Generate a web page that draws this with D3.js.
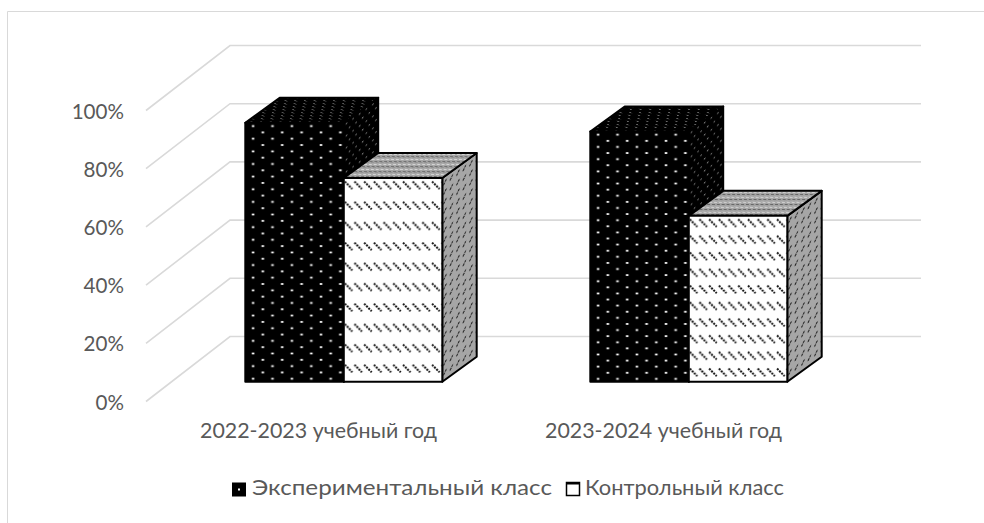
<!DOCTYPE html>
<html>
<head>
<meta charset="utf-8">
<script src="https://cdn.jsdelivr.net/npm/d3@7"></script>
<style>
body { margin: 0; background: #fff; }
text { font-family: Lato, "Open Sans", sans-serif; fill: #595959; font-size: 21.4px; }
</style>
</head>
<body>
<script>
// chart values
var categories = ["2022-2023 учебный год", "2023-2024 учебный год"];
var seriesNames = ["Экспериментальный класс", "Контрольный класс"];
var experimental = [89, 86];
var control = [70, 57];
var yTicks = [0, 20, 40, 60, 80, 100];

var width = 984,
    height = 523;

var svg = d3.select("body").append("svg")
    .attr("width", width)
    .attr("height", height)
    .style("display", "block");

var defs = svg.append("defs");

// every pattern is tied to its own bar, the fills stretch with the bar height
function addPattern(id, w, h, bg, transform) {
    var p = defs.append("pattern")
        .attr("id", id)
        .attr("patternUnits", "userSpaceOnUse")
        .attr("width", w)
        .attr("height", h)
        .attr("patternTransform", transform);
    p.append("rect").attr("width", w).attr("height", h).attr("fill", bg);
    return p;
}

function dot(p, x, y, w, h, color) {
    p.append("rect").attr("x", x).attr("y", y).attr("width", w).attr("height", h).attr("fill", color);
}

function dashes(p, d, color, sw, dash) {
    p.append("path").attr("d", d).attr("fill", "none").attr("stroke", color)
        .attr("stroke-width", sw).attr("stroke-dasharray", dash);
}

// chart frame (only the top and left edges show in the picture)
svg.append("path")
    .attr("d", "M7.5,523 V11.5 H984")
    .attr("fill", "none")
    .attr("stroke", "#d9d9d9")
    .attr("stroke-width", 1);

// scales
var y = d3.scaleLinear().domain([0, 100]).range([401.5, 110.5]);

var x0 = d3.scaleBand()
    .domain(categories)
    .range([146, 836]);

var x1 = d3.scaleBand()
    .domain(seriesNames)
    .range([0, 197]);

var depthX = 84,
    depthY = -65;

// gridlines along wall and floor
yTicks.forEach(function (t) {
    svg.append("path")
        .attr("d", d3.line()([[146, y(t)], [146 + depthX, y(t) + depthY], [921, y(t) + depthY]]))
        .attr("fill", "none")
        .attr("stroke", "#d9d9d9")
        .attr("stroke-width", 1.6);
});

// y tick labels
svg.append("g").selectAll("text")
    .data(yTicks)
    .enter()
    .append("text")
    .attr("x", 124)
    .attr("y", function (d) { return y(d) + 8; })
    .attr("text-anchor", "end")
    .style("font-size", "20.6px")
    .text(function (d) { return d + "%"; });

// bars
var barOffX = 25.3,
    barOffY = -19.8,
    barDX = 34.4,
    barDY = -25;

function drawBar(id, cat, name, val, isBlack) {
    var left = x0(cat) + (x0.bandwidth() - x1.range()[1]) / 2 + x1(name) + barOffX,
        right = left + x1.bandwidth(),
        top = y(val) + barOffY,
        bottom = y(0) + barOffY,
        h = bottom - top,
        slope = barDY / barDX,
        sideT = "matrix(1," + slope + ",0,1," + right + "," + top + ")",
        topT = "matrix(1,0," + (-barDX / barDY) + ",1," + left + "," + top + ")",
        frontT = "translate(" + left + "," + top + ")",
        p;

    if (isBlack) {
        var rowH = h / 41;
        p = addPattern(id + "f", 19.4, rowH * 2, "#000", frontT);
        dot(p, 6.5, rowH * 0.4, 2.6, 1.7, "#fff");
        dot(p, 16.2, rowH * 1.4, 2.6, 1.7, "#fff");

        p = addPattern(id + "s", 6.6, 12, "#000", sideT);
        dot(p, 2, 2, 1.4, 1.4, "#777");
        dot(p, 5, 8, 1.4, 1.4, "#777");

        p = addPattern(id + "t", 9.7, 6, "#000", topT);
        dot(p, 2, 1.5, 1.6, 1.2, "#777");
        dot(p, 7, 4.5, 1.6, 1.2, "#777");
    } else {
        var ctrlH = h / 10;
        p = addPattern(id + "f", 9.7, ctrlH, "#fff", frontT);
        dashes(p, "M1,3.5 L8.5,11", "#111", 2, "2 1");

        p = addPattern(id + "s", 6.5, 9.5, "#a6a6a6", sideT);
        dashes(p, "M1.2,8 L4.6,3.5", "#262626", 1.5, "2 .8");

        p = addPattern(id + "t", 9.7, 5, "#a6a6a6", topT);
        dashes(p, "M0,1.5 H9.7", "#d9d9d9", 1, "3 1.8");
        dashes(p, "M0,3.8 H9.7", "#666", 1, "3 1.8");
    }

    var g = svg.append("g")
        .attr("stroke", "#000")
        .attr("stroke-width", 2)
        .attr("stroke-linejoin", "round");
    g.append("path").attr("fill", "url(#" + id + "s)")
        .attr("d", d3.line()([[right, top], [right + barDX, top + barDY], [right + barDX, bottom + barDY], [right, bottom]]) + "Z");
    g.append("path").attr("fill", "url(#" + id + "t)")
        .attr("d", d3.line()([[left, top], [left + barDX, top + barDY], [right + barDX, top + barDY], [right, top]]) + "Z");
    g.append("rect").attr("x", left).attr("y", top)
        .attr("width", x1.bandwidth()).attr("height", h)
        .attr("fill", "url(#" + id + "f)");
}

categories.forEach(function (c, i) {
    drawBar("e" + i, c, seriesNames[0], experimental[i], true);
    drawBar("k" + i, c, seriesNames[1], control[i], false);
});

// category labels
svg.append("g").selectAll("text")
    .data(categories)
    .enter()
    .append("text")
    .attr("x", function (d) { return x0(d) + x0.bandwidth() / 2; })
    .attr("y", 438)
    .attr("text-anchor", "middle")
    .text(function (d) { return d; });

// legend
var legendX = [232, 566],
    legendText = [252, 585],
    legendLen = [300, 199];

seriesNames.forEach(function (name, i) {
    svg.append("rect")
        .attr("x", legendX[i] + (i ? 0.5 : 0)).attr("y", 482.5)
        .attr("width", i ? 13 : 14).attr("height", i ? 13 : 14)
        .attr("fill", i ? "#fff" : "#000")
        .attr("stroke", i ? "#000" : "none")
        .attr("stroke-width", 1.5);
    if (i) {
        // heavier top edge of the control swatch
        svg.append("rect").attr("x", legendX[i] + 0.5).attr("y", 482)
            .attr("width", 13).attr("height", 2.5).attr("fill", "#000");
    } else {
        svg.append("rect").attr("x", legendX[i] + 6).attr("y", 488.5)
            .attr("width", 2).attr("height", 2).attr("fill", "#fff");
    }
    svg.append("text")
        .attr("x", legendText[i])
        .attr("y", 495)
        .attr("textLength", legendLen[i])
        .attr("lengthAdjust", "spacingAndGlyphs")
        .text(name);
});
</script>
</body>
</html>
